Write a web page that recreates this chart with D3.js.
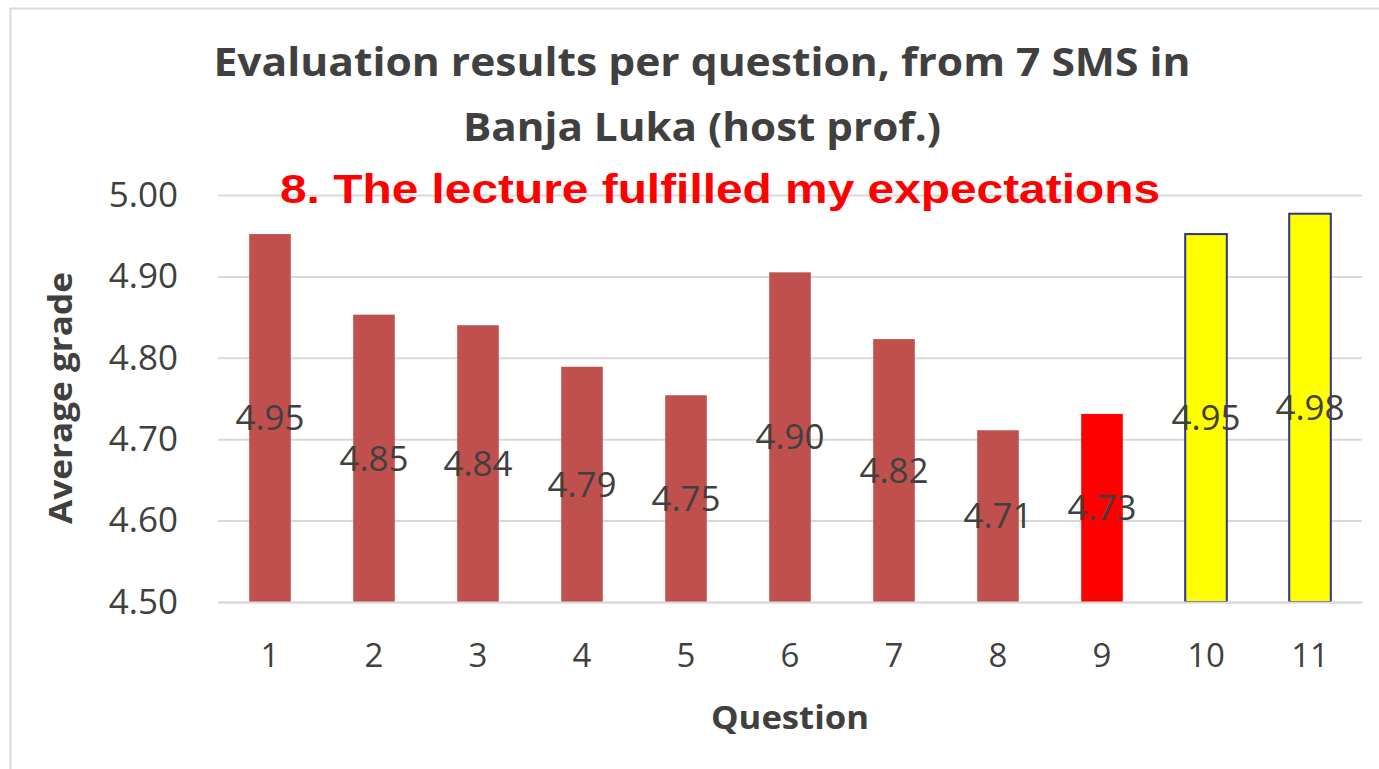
<!DOCTYPE html>
<html><head><meta charset="utf-8">
<script src="https://cdn.jsdelivr.net/npm/d3@7"></script>
<style>body{margin:0;background:#fff;}svg{display:block;}</style>
</head><body>
<svg id="c" width="1379" height="769"></svg>
<script>
const categories = ["1","2","3","4","5","6","7","8","9","10","11"];
const values = [4.952, 4.853, 4.840, 4.789, 4.754, 4.905, 4.823, 4.711, 4.731, 4.952, 4.977];
const labels = ["4.95","4.85","4.84","4.79","4.75","4.90","4.82","4.71","4.73","4.95","4.98"];
const fills = ["#c0504d","#c0504d","#c0504d","#c0504d","#c0504d","#c0504d","#c0504d","#c0504d","#ff0000","#ffff00","#ffff00"];
const strokes = ["none","none","none","none","none","none","none","none","none","#2e3192","#2e3192"];
const yTicks = [4.5, 4.6, 4.7, 4.8, 4.9, 5.0];

const svg = d3.select("#c");
const W = 1379, H = 769;
const plot = {l: 218, r: 1362, t: 195, b: 602};

// outer frame
svg.append("line").attr("x1",10).attr("x2",W).attr("y1",8.5).attr("y2",8.5).attr("stroke","#d9d9d9").attr("stroke-width",2);
svg.append("line").attr("x1",10.5).attr("x2",10.5).attr("y1",8).attr("y2",H).attr("stroke","#d9d9d9").attr("stroke-width",2);

const x = d3.scaleBand().domain(categories).range([plot.l, plot.r]).paddingInner(0.6).paddingOuter(0.3);
const y = d3.scaleLinear().domain([4.5, 5.0]).range([plot.b, plot.t]);

// gridlines
const gy = svg.append("g").attr("transform",`translate(${plot.l},0)`)
  .call(d3.axisLeft(y).tickValues(yTicks).tickSize(-(plot.r-plot.l)).tickFormat(d3.format(".2f")).tickPadding(40));
gy.select(".domain").remove();
gy.selectAll(".tick line").attr("stroke","#d9d9d9").attr("stroke-width",2);
gy.selectAll(".tick text").attr("fill","#404040").style("font-family","'Open Sans', sans-serif").style("font-size","35px");

// bars
svg.append("g").selectAll("rect").data(values).join("rect")
  .attr("x",(d,i)=>x(categories[i]))
  .attr("width",x.bandwidth())
  .attr("y",d=>y(d))
  .attr("height",d=>plot.b - y(d))
  .attr("fill",(d,i)=>fills[i])
  .attr("stroke",(d,i)=>strokes[i])
  .attr("stroke-width",2);

// x axis
const gx = svg.append("g").attr("transform",`translate(0,${plot.b})`)
  .call(d3.axisBottom(x).tickSize(0).tickPadding(42));
gx.select(".domain").attr("stroke","#d9d9d9").attr("stroke-width",2);
gx.selectAll(".tick text").attr("fill","#404040").style("font-family","'Open Sans', sans-serif").style("font-size","33px");

// data labels at bar center
svg.append("g").selectAll("text").data(values).join("text")
  .attr("x",(d,i)=>x(categories[i])+x.bandwidth()/2)
  .attr("y",d=>(y(d)+plot.b)/2)
  .attr("dy","0.35em")
  .attr("text-anchor","middle")
  .attr("fill","#404040")
  .style("font-family","'Open Sans', sans-serif").style("font-size","35px")
  .text((d,i)=>labels[i]);

// titles
const tf = "'Open Sans', sans-serif";
svg.append("text").attr("x",702).attr("y",76).attr("text-anchor","middle").attr("fill","#404040")
  .style("font-family",tf).style("font-weight","bold").style("font-size","40px")
  .attr("textLength",977).attr("lengthAdjust","spacingAndGlyphs")
  .text("Evaluation results per question, from 7 SMS in");
svg.append("text").attr("x",702).attr("y",141).attr("text-anchor","middle").attr("fill","#404040")
  .style("font-family",tf).style("font-weight","bold").style("font-size","40px")
  .attr("textLength",478).attr("lengthAdjust","spacingAndGlyphs")
  .text("Banja Luka (host prof.)");
svg.append("text").attr("x",720).attr("y",203).attr("text-anchor","middle").attr("fill","#ff0000")
  .style("font-family","'Liberation Sans', Arial, sans-serif").style("font-weight","bold").style("font-size","40px")
  .attr("textLength",880).attr("lengthAdjust","spacingAndGlyphs")
  .text("8. The lecture fulfilled my expectations");

svg.append("text").attr("transform","translate(72,398) rotate(-90)").attr("text-anchor","middle").attr("fill","#404040")
  .style("font-family",tf).style("font-weight","bold").style("font-size","32px")
  .attr("textLength",252).attr("lengthAdjust","spacingAndGlyphs")
  .text("Average grade");
svg.append("text").attr("x",790).attr("y",729).attr("text-anchor","middle").attr("fill","#404040")
  .style("font-family",tf).style("font-weight","bold").style("font-size","32px")
  .attr("textLength",158).attr("lengthAdjust","spacingAndGlyphs")
  .text("Question");
</script>
</body></html>
